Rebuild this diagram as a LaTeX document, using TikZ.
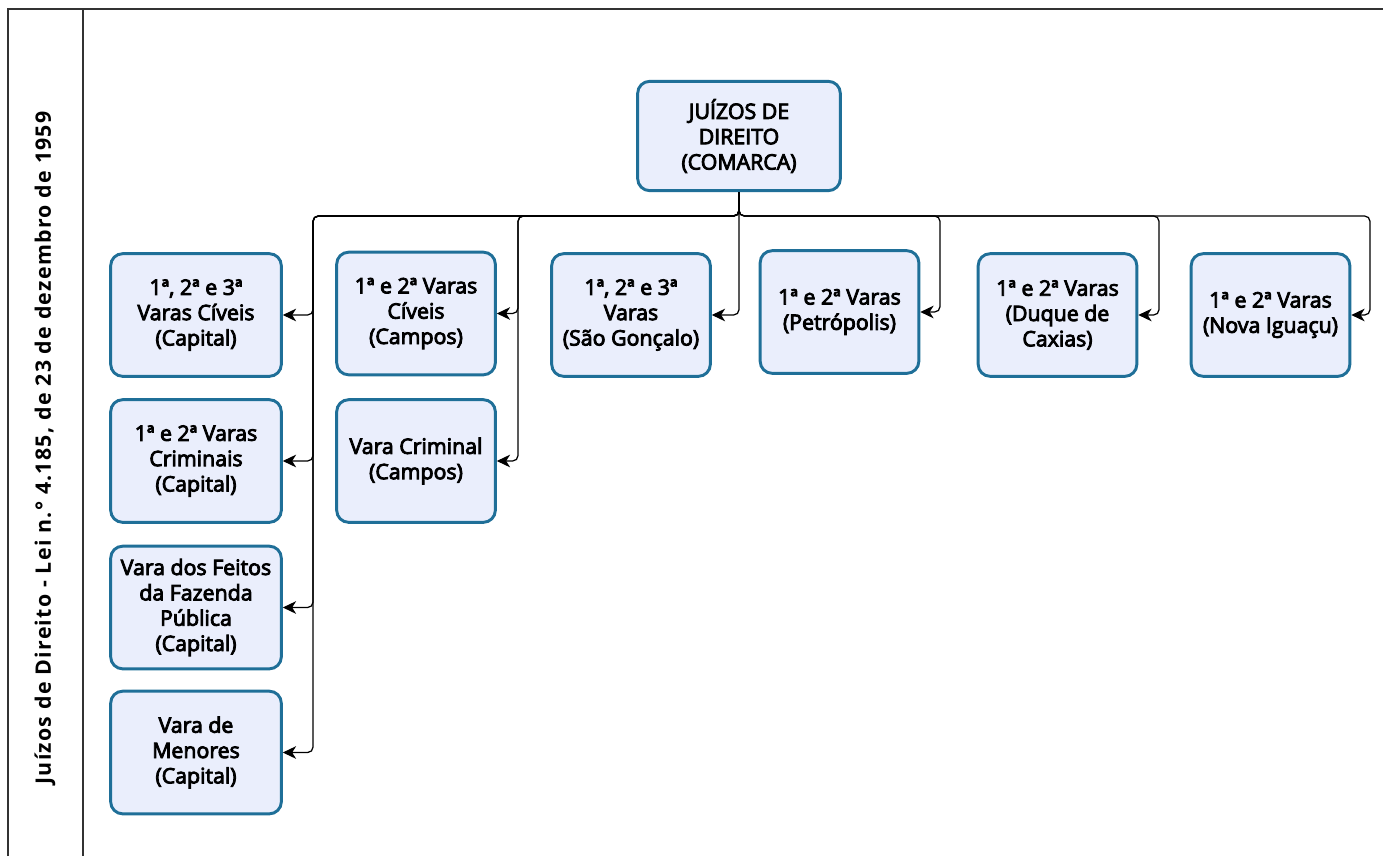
\documentclass[tikz,border=0pt]{standalone}
\usepackage{fontspec}
\setmainfont{Open Sans}
\newfontfamily\boxfont[FakeBold=4]{Open Sans}
\newfontfamily\labelfont[LetterSpace=6]{Open Sans}
\usetikzlibrary{arrows.meta}
\definecolor{boxline}{RGB}{31,111,152}
\definecolor{boxfill}{RGB}{234,238,252}
\definecolor{framecol}{RGB}{50,50,50}
\begin{document}
\begin{tikzpicture}[x=0.75pt,y=-0.75pt,
  box/.style={draw=boxline, fill=boxfill, line width=2.2pt, rounded corners=9pt,
    align=center, font=\boxfont\fontsize{16pt}{19pt}\selectfont, inner sep=2pt},
  boxa/.style={box, minimum width=128pt, minimum height=92pt},
  boxb/.style={box, minimum width=119pt, minimum height=92pt},
  conn/.style={draw=black, line width=0.95pt, rounded corners=4pt,
    -{Stealth[length=10pt,width=9.5pt,inset=3pt]}},
  frameline/.style={draw=framecol, line width=1.5pt},
  ]
\useasboundingbox (0,0) rectangle (1383,856);
\fill[white] (0,0) rectangle (1383,856);
\draw[frameline] (8,856) -- (8,9) -- (1383,9);
\draw[frameline] (83,9) -- (83,856);
\node[rotate=90, font=\labelfont\bfseries\fontsize{16pt}{18pt}\selectfont] (label) at (45,448)
  {Juízos de Direito - Lei n.° 4.185, de 23 de dezembro de 1959};

\node[box, minimum width=152pt, minimum height=82pt] (top) at (739,136)
  {JUÍZOS DE\\DIREITO\\(COMARCA)};

\node[boxa] (a1) at (196,315) {1ª, 2ª e 3ª\\Varas Cíveis\\(Capital)};
\node[boxa] (a2) at (196,461) {1ª e 2ª Varas\\Criminais\\(Capital)};
\node[boxa] (a3) at (196,607.5) {Vara dos Feitos\\da Fazenda\\Pública\\(Capital)};
\node[boxa] (a4) at (196,752.5) {Vara de\\Menores\\(Capital)};

\node[boxb] (b1) at (416,313.5) {1ª e 2ª Varas\\Cíveis\\(Campos)};
\node[boxb] (b2) at (416,461) {Vara Criminal\\(Campos)};
\node[boxb] (c) at (631,315) {1ª, 2ª e 3ª\\Varas\\(São Gonçalo)};
\node[boxb] (d) at (839.5,312) {1ª e 2ª Varas\\(Petrópolis)};
\node[boxb] (e) at (1057.5,315) {1ª e 2ª Varas\\(Duque de\\Caxias)};
\node[boxb] (f) at (1270.5,315) {1ª e 2ª Varas\\(Nova Iguaçu)};

\coordinate (l1) at (313,216);
\coordinate (l2) at (518,216);
\coordinate (l3) at (739,216);
\coordinate (l4) at (940,216);
\coordinate (l5) at (1159,216);
\coordinate (l6) at (1370,216);

\draw[conn] (top.south) |- (l1) |- (a1.east);
\draw[conn] (top.south) |- (l1) |- (a2.east);
\draw[conn] (top.south) |- (l1) |- (a3.east);
\draw[conn] (top.south) |- (l1) |- (a4.east);
\draw[conn] (top.south) |- (l2) |- (b1.east);
\draw[conn] (top.south) |- (l2) |- (b2.east);
\draw[conn] (top.south) -- (l3) |- (c.east);
\draw[conn] (top.south) |- (l4) |- (d.east);
\draw[conn] (top.south) |- (l5) |- (e.east);
\draw[conn] (top.south) |- (l6) |- (f.east);
\end{tikzpicture}
\end{document}
